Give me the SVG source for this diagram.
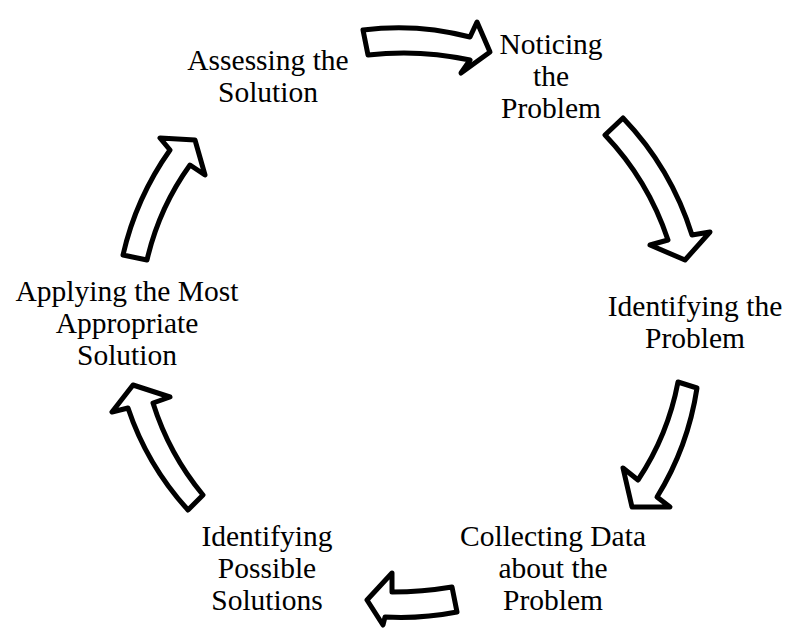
<svg xmlns="http://www.w3.org/2000/svg" width="787" height="628" viewBox="0 0 787 628">
<style>
.arrow{fill:#fff;stroke:#000;stroke-width:5;stroke-linejoin:round}
.lbl{font-family:"Liberation Serif","Times New Roman",serif;font-size:29.5px;fill:#000;text-anchor:middle}
</style>
<rect width="787" height="628" fill="#fff"/>
<g id="connectors">
<path class="arrow" d="M363,30 Q417,23 470,37 L477,22 L490,52 L461,73 L470,60 Q419,49 368,55 Z"/>
<path class="arrow" d="M623,118 Q671,168 692,235 L710,232 L685,260 L650,245 L668,240 Q648,180 605,135 Z"/>
<path class="arrow" d="M697,388 Q688,447 657,497 L670,507 L632,507 L623,468 L638,480 Q668,435 678,382 Z"/>
<path class="arrow" d="M452,587 Q422,592 392,592 L392,573 L367,600 L383,625 L385,617 Q421,619 457,612 Z"/>
<path class="arrow" d="M203,495 Q169,454 153,403 L170,397 L133,385 L112,412 L128,408 Q147,465 188,510 Z"/>
<path class="arrow" d="M123,255 Q136,198 170,150 L160,138 L195,140 L205,175 L190,165 Q159,208 147,260 Z"/>
</g>
<g id="n1"><text class="lbl" x="551" y="54">Noticing</text><text class="lbl" x="551" y="86">the</text><text class="lbl" x="551" y="118">Problem</text></g>
<g id="n2"><text class="lbl" x="695" y="316">Identifying the</text><text class="lbl" x="695" y="348">Problem</text></g>
<g id="n3"><text class="lbl" x="553" y="546">Collecting Data</text><text class="lbl" x="553" y="578">about the</text><text class="lbl" x="553" y="610">Problem</text></g>
<g id="n4"><text class="lbl" x="267" y="546">Identifying</text><text class="lbl" x="267" y="578">Possible</text><text class="lbl" x="267" y="610">Solutions</text></g>
<g id="n5"><text class="lbl" x="127" y="301">Applying the Most</text><text class="lbl" x="127" y="333">Appropriate</text><text class="lbl" x="127" y="365">Solution</text></g>
<g id="n6"><text class="lbl" x="268" y="70">Assessing the</text><text class="lbl" x="268" y="102">Solution</text></g>
</svg>
